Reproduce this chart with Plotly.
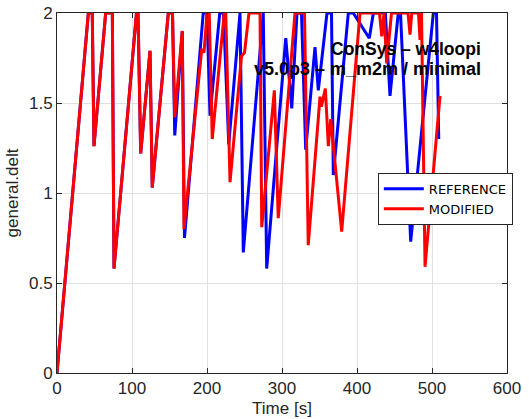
import plotly.graph_objects as go

# REFERENCE series (time [s], general.delt)
ref_t = [0, 41.8, 47, 49.3, 64.9, 73.8, 76, 106, 108, 111.6, 124, 127, 148.4, 154,
         157, 167, 170, 195, 200, 204, 217, 222, 229, 244, 248.4, 275, 279.6,
         305, 313, 320, 326, 331.6, 344, 348.4, 360, 366, 368.4, 388.4, 395,
         416.4, 421.8, 437.8, 444, 455, 458, 471.6, 501.8, 506, 509]
ref_v = [0, 2, 2, 1.26, 2, 2, 0.58, 2, 2, 1.22, 1.79, 1.03, 2, 2,
         1.32, 1.9, 0.75, 2, 2, 1.43, 2, 2, 1.27, 2, 0.67, 2, 0.58,
         1.86, 1.47, 2, 2, 1.24, 1.81, 1.57, 2, 2, 1.10, 2, 2,
         1.86, 2, 2, 1.54, 2, 2, 0.73, 2, 2, 1.30]

# MODIFIED series
mod_t = [0, 41.8, 47, 49.3, 64.9, 73.8, 76, 106, 108, 111.6, 124, 127, 148.4, 154,
         157, 167, 169.3, 193, 196, 200, 203, 207, 223, 225, 230.7, 246, 250, 256,
         270.7, 273, 289.8, 295, 317.3, 330, 335, 350.7, 352.5, 357.8, 361.8, 365,
         379.6, 404, 430, 433, 436, 439.6, 446, 468, 470.7, 473, 482, 484, 486,
         490.7, 510.7]
mod_v = [0, 2, 2, 1.26, 2, 2, 0.58, 2, 2, 1.22, 1.79, 1.03, 2, 2,
         1.42, 1.9, 0.80, 1.8, 1.78, 2, 2, 1.30, 2, 2, 1.06, 1.76, 1.78, 2,
         2, 0.81, 1.57, 0.86, 2, 2, 0.71, 1.535, 1.48, 1.58, 1.26, 1.41,
         0.785, 2, 2, 1.87, 2, 1.72, 2, 2, 1.88, 2, 2, 1.85, 2,
         0.59, 1.54]

series_names = ["REFERENCE", "MODIFIED"]
title_lines = ["ConSys \u2013 w4loopi", "v5.0p3 \u2013 m_m2m / minimal"]
x_ticks = [0, 100, 200, 300, 400, 500, 600]
y_ticks = [0, 0.5, 1, 1.5, 2]
y_tick_text = ["0", "0.5", "1", "1.5", "2"]

FONT = "Liberation Sans, Arial, sans-serif"
AX = "#262626"

fig = go.Figure()
fig.add_trace(go.Scatter(x=ref_t, y=ref_v, mode="lines", name=series_names[0],
                         line=dict(color="#0000ff", width=3), cliponaxis=False))
fig.add_trace(go.Scatter(x=mod_t, y=mod_v, mode="lines", name=series_names[1],
                         line=dict(color="#ff0000", width=3), cliponaxis=False))

fig.add_annotation(x=568, y=1.80, xref="x", yref="y", text="<b>%s</b>" % title_lines[0],
                   showarrow=False, xanchor="right", yanchor="middle",
                   font=dict(family=FONT, size=17.5, color="black"))
fig.add_annotation(x=568, y=1.69, xref="x", yref="y", text="<b>%s</b>" % title_lines[1],
                   showarrow=False, xanchor="right", yanchor="middle",
                   font=dict(family=FONT, size=18, color="black"))

axis_common = dict(showline=True, linecolor=AX, linewidth=1, mirror="ticks",
                   ticks="inside", ticklen=5, tickcolor=AX, showgrid=True,
                   gridcolor="#e0e0e0", gridwidth=1, zeroline=False, automargin=False,
                   tickfont=dict(family=FONT, size=17, color=AX))

fig.update_xaxes(range=[0, 600], tickvals=x_ticks,
                 title=dict(text="Time [s]", font=dict(family=FONT, size=17, color=AX), standoff=4),
                 **axis_common)
fig.update_yaxes(range=[0, 2], tickvals=y_ticks, ticktext=y_tick_text,
                 title=dict(text="general.delt", font=dict(family=FONT, size=17, color=AX), standoff=6),
                 **axis_common)

fig.update_layout(
    width=532, height=419,
    margin=dict(l=57, r=25, t=13, b=46, autoexpand=False),
    paper_bgcolor="white", plot_bgcolor="white",
    showlegend=True,
    legend=dict(x=1.013, y=0.556, xanchor="right", yanchor="top",
                bgcolor="white", bordercolor=AX, borderwidth=1,
                font=dict(family="DejaVu Sans, sans-serif", size=13, color="black"),
                tracegroupgap=0, itemwidth=40),
)

fig.write_html("out.html", config={"displayModeBar": False},
               post_script="document.body.style.margin='0';document.body.style.overflow='hidden';")
